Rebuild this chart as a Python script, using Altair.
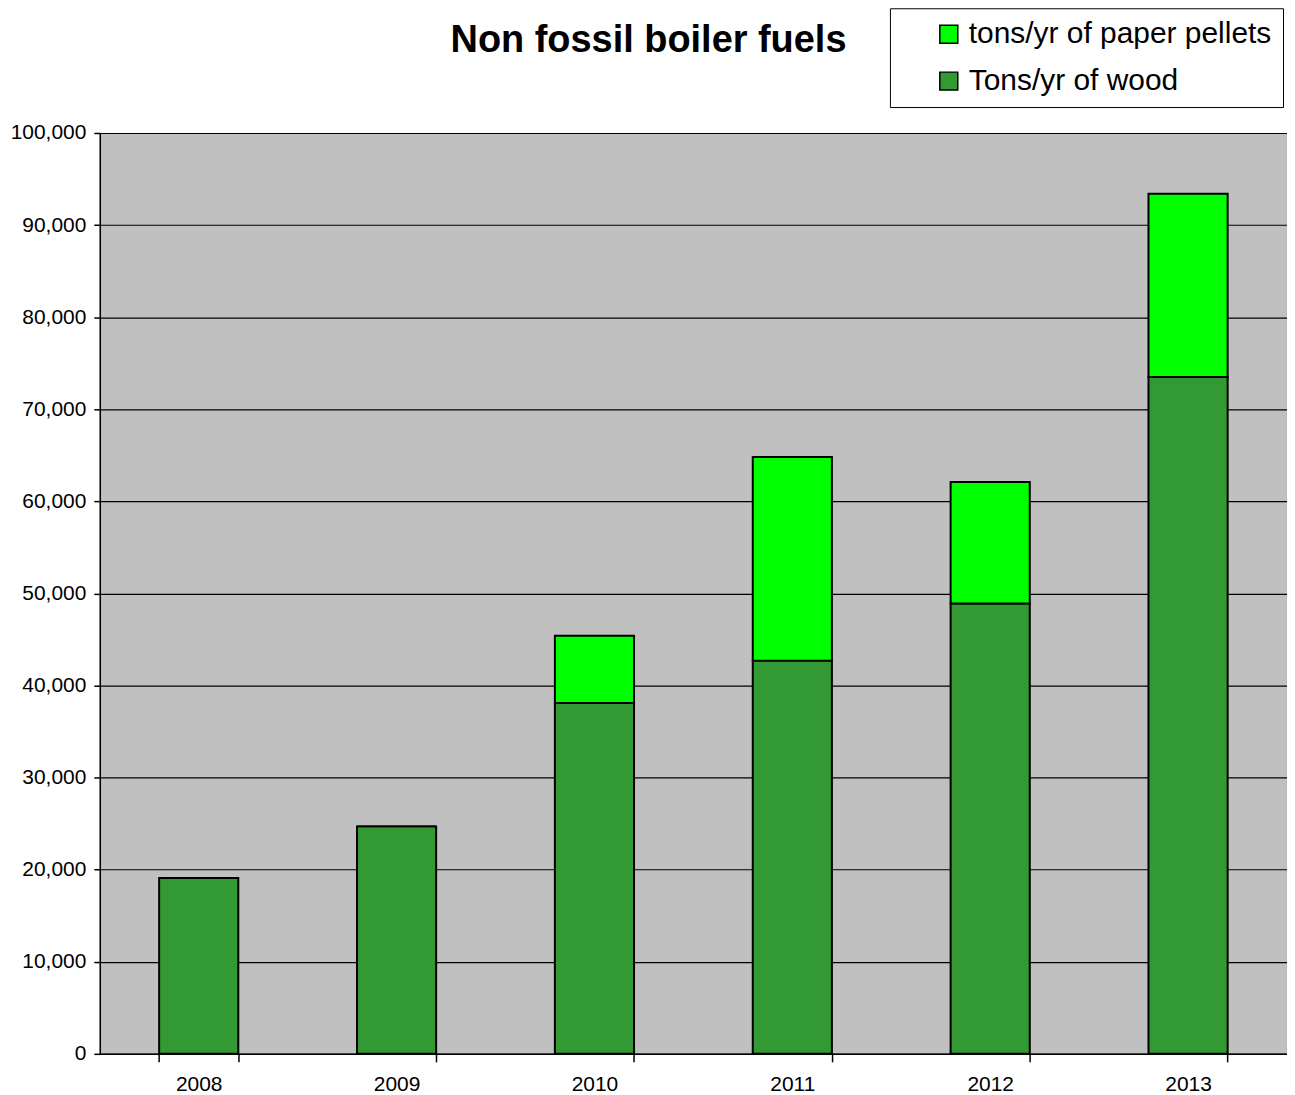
import altair as alt
import pandas as pd

years = ["2008", "2009", "2010", "2011", "2012", "2013"]
wood = [19100, 24700, 38100, 42700, 48900, 73500]
pellets = [0, 0, 7300, 22100, 13200, 19900]
series_names = ["tons/yr of paper pellets", "Tons/yr of wood"]
series_colors = ["#00FF00", "#339933"]
y_ticks = list(range(0, 100001, 10000))

rows = []
for i, yr in enumerate(years):
    rows.append({"year": yr, "series": series_names[1], "value": wood[i], "order": 0})
    rows.append({"year": yr, "series": series_names[0], "value": pellets[i], "order": 1})
df = pd.DataFrame(rows)

chart = alt.Chart(df).mark_bar(stroke="black", strokeWidth=2).encode(
    x=alt.X("year:N", sort=years,
            scale=alt.Scale(paddingInner=0.6, paddingOuter=0.3),
            axis=alt.Axis(title=None, labelAngle=0, tickBand="extent", tickSize=8,
                          labelPadding=12, labelFontSize=21, labelFont="Liberation Sans",
                          labelColor="black", domainColor="black", domainWidth=1.5,
                          tickColor="black", tickWidth=1.5, grid=False)),
    y=alt.Y("value:Q", stack="zero",
            scale=alt.Scale(domain=[0, 100000], nice=False),
            axis=alt.Axis(title=None, values=y_ticks, format=",.0f", tickSize=6,
                          labelPadding=8, labelFontSize=21, labelFont="Liberation Sans",
                          labelColor="black", domainColor="black", domainWidth=1.5,
                          tickColor="black", tickWidth=1.5, grid=True,
                          gridColor="black", gridWidth=1.2)),
    color=alt.Color("series:N", sort=series_names,
                    scale=alt.Scale(domain=series_names, range=series_colors),
                    legend=alt.Legend(title=None, orient="none", legendX=792, legendY=-125,
                                      symbolType="square", symbolSize=324,
                                      symbolStrokeColor="black", symbolStrokeWidth=1.5,
                                      labelFontSize=30, labelFont="Liberation Sans",
                                      labelColor="black", labelOffset=5,
                                      labelExpr="datum.label + '\u00a0'",
                                      rowPadding=17, padding=11, symbolOffset=33,
                                      strokeColor="black", fillColor="white",
                                      labelLimit=600)),
    order=alt.Order("order:Q"),
).properties(
    width=1190, height=923,
    background="white",
    title=alt.TitleParams("Non fossil boiler fuels", fontSize=38, font="Liberation Sans",
                          fontWeight="bold", color="black", anchor="middle", frame="group",
                          baseline="alphabetic", dx=-45, offset=-82),
    autosize=alt.AutoSizeParams(type="none"),
    padding={"left": 92, "top": 124, "right": 0, "bottom": 40},
).configure_view(
    fill="#C0C0C0", stroke="#808080", strokeWidth=1
)

chart.save("out.html", embed_options={"renderer": "svg", "actions": False})
